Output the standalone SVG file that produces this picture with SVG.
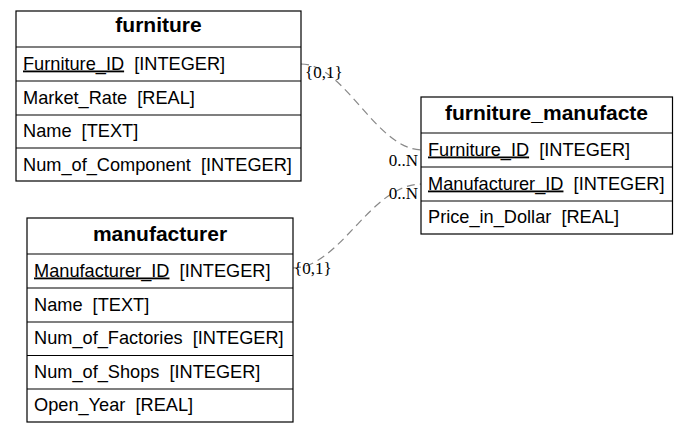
<svg xmlns="http://www.w3.org/2000/svg" width="688" height="431" viewBox="0 0 688 431">
<style>
.box{fill:#fff;stroke:#000;stroke-width:1.2}
.ln{stroke:#000;stroke-width:1.2}
.hd{font-family:"Liberation Sans",Arial,sans-serif;font-size:21px;font-weight:bold;text-anchor:middle;fill:#000}
.rw{font-family:"Liberation Sans",Arial,sans-serif;font-size:18.2px;fill:#000}
.lb{font-family:"Liberation Serif","Times New Roman",serif;font-size:17px;fill:#000}
.ed{fill:none;stroke:#888;stroke-width:1.2;stroke-dasharray:8,5}
</style>
<g id="edges">
<path class="ed" d="M301,64 C345,64 375,148 421,150"/>
<path class="ed" d="M293,268 C340,268 370,185 421,184"/>
<text class="lb" x="305" y="78">{0,1}</text>
<text class="lb" x="418" y="166" text-anchor="end">0..N</text>
<text class="lb" x="294" y="274">{0,1}</text>
<text class="lb" x="418" y="199" text-anchor="end">0..N</text>
</g>
<g id="furniture">
<rect class="box" x="16" y="11" width="285" height="170"/>
<line class="ln" x1="16" y1="47" x2="301" y2="47"/>
<line class="ln" x1="16" y1="81" x2="301" y2="81"/>
<line class="ln" x1="16" y1="115" x2="301" y2="115"/>
<line class="ln" x1="16" y1="148" x2="301" y2="148"/>
<text class="hd" x="158.5" y="32">furniture</text>
<text class="rw" x="23" y="69.5" xml:space="preserve"><tspan text-decoration="underline">Furniture_ID</tspan>  [INTEGER]</text>
<text class="rw" x="23" y="103.5" xml:space="preserve">Market_Rate  [REAL]</text>
<text class="rw" x="23" y="137" xml:space="preserve">Name  [TEXT]</text>
<text class="rw" x="23" y="170.5" xml:space="preserve">Num_of_Component  [INTEGER]</text>
</g>
<g id="manufacturer">
<rect class="box" x="27" y="218" width="266" height="204"/>
<line class="ln" x1="27" y1="254" x2="293" y2="254"/>
<line class="ln" x1="27" y1="288" x2="293" y2="288"/>
<line class="ln" x1="27" y1="322" x2="293" y2="322"/>
<line class="ln" x1="27" y1="355.5" x2="293" y2="355.5"/>
<line class="ln" x1="27" y1="389" x2="293" y2="389"/>
<text class="hd" x="160" y="241">manufacturer</text>
<text class="rw" x="34" y="276.5" xml:space="preserve"><tspan text-decoration="underline">Manufacturer_ID</tspan>  [INTEGER]</text>
<text class="rw" x="34" y="310.5" xml:space="preserve">Name  [TEXT]</text>
<text class="rw" x="34" y="344" xml:space="preserve">Num_of_Factories  [INTEGER]</text>
<text class="rw" x="34" y="377.5" xml:space="preserve">Num_of_Shops  [INTEGER]</text>
<text class="rw" x="34" y="411" xml:space="preserve">Open_Year  [REAL]</text>
</g>
<g id="furniture_manufacte">
<rect class="box" x="421" y="97" width="251.5" height="137"/>
<line class="ln" x1="421" y1="133" x2="672.5" y2="133"/>
<line class="ln" x1="421" y1="167" x2="672.5" y2="167"/>
<line class="ln" x1="421" y1="201" x2="672.5" y2="201"/>
<text class="hd" x="546.5" y="120">furniture_manufacte</text>
<text class="rw" x="428" y="155.5" xml:space="preserve"><tspan text-decoration="underline">Furniture_ID</tspan>  [INTEGER]</text>
<text class="rw" x="428" y="189.5" xml:space="preserve"><tspan text-decoration="underline">Manufacturer_ID</tspan>  [INTEGER]</text>
<text class="rw" x="428" y="223" xml:space="preserve">Price_in_Dollar  [REAL]</text>
</g>
</svg>
